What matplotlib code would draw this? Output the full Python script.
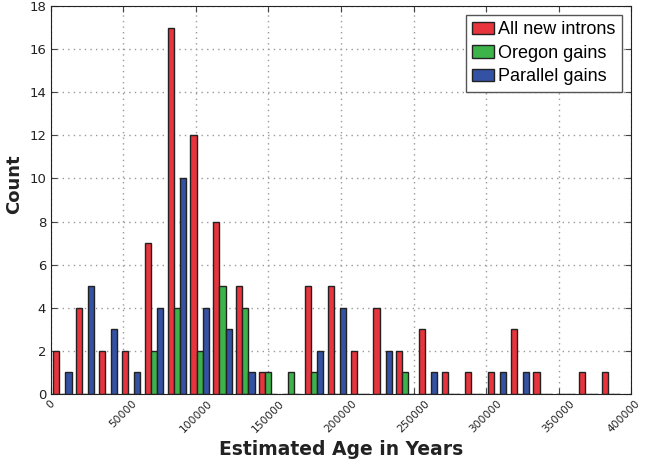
import numpy as np
import matplotlib
matplotlib.use("Agg")
import matplotlib.pyplot as plt
import matplotlib.transforms as mtransforms

# histogram counts per bin (25 bins starting at 0)
bin_width = 15770
n_bins = 25
all_new = [2, 4, 2, 2, 7, 17, 12, 8, 5, 1, 0, 5, 5, 2, 4, 2, 3, 1, 1, 1, 3, 1, 0, 1, 1]
oregon = [0, 0, 0, 0, 2, 4, 2, 5, 4, 1, 1, 1, 0, 0, 0, 1, 0, 0, 0, 0, 0, 0, 0, 0, 0]
parallel = [1, 5, 3, 1, 4, 10, 4, 3, 1, 0, 0, 2, 4, 0, 2, 0, 1, 0, 0, 1, 1, 0, 0, 0, 0]
labels = ["All new introns", "Oregon gains", "Parallel gains"]
colors = ["#e8343c", "#3cb44a", "#3452a4"]

edges = np.arange(n_bins + 1) * bin_width
centers = (edges[:-1] + edges[1:]) / 2

fig = plt.figure(figsize=(6.47, 4.59), dpi=100)
ax = fig.add_axes([0.0788, 0.1416, 0.8965, 0.8454])

ax.hist([centers, centers, centers], bins=edges,
        weights=[all_new, oregon, parallel],
        histtype="bar", color=colors, label=labels,
        edgecolor="#222222", linewidth=1.0, zorder=2)

ax.set_xlim(0, 400000)
ax.set_ylim(0, 18)
ax.set_xticks(np.arange(0, 400001, 50000))
ax.set_yticks(np.arange(0, 19, 2))
ax.grid(True, color="#999999", linestyle=(0, (1, 3)), linewidth=1.0, zorder=0)
ax.set_axisbelow(True)
ax.tick_params(direction="in", length=4, top=True, right=True,
               labelcolor="#222222", color="#444444")
ax.tick_params(axis="y", labelsize=9.5)
ax.tick_params(axis="x", labelsize=7.7, pad=3)
xlabels = ax.get_xticklabels()
plt.setp(xlabels, rotation=45, ha="center")
# nudge the last label so it stays inside the figure
last = xlabels[-1]
last.set_transform(last.get_transform() +
                   mtransforms.ScaledTranslation(-5 / 72, 0, fig.dpi_scale_trans))
for s in ax.spines.values():
    s.set_color("#222222")

ax.set_xlabel("Estimated Age in Years", fontsize=13.5, fontweight="bold", color="#222222")
ax.xaxis.set_label_coords(0.5, -0.118)
ax.set_ylabel("Count", fontsize=13, fontweight="bold", color="#222222")
ax.yaxis.set_label_coords(-0.048, 0.541)

leg = ax.legend(loc="upper right", prop={"family": "Liberation Sans", "size": 13},
                fancybox=False, edgecolor="#555555", framealpha=1,
                handlelength=1.2, handletextpad=0.25, labelspacing=0.36,
                borderaxespad=0.5, borderpad=0.35)
leg.get_frame().set_linewidth(1.0)

fig.savefig("out.png", dpi=100)
